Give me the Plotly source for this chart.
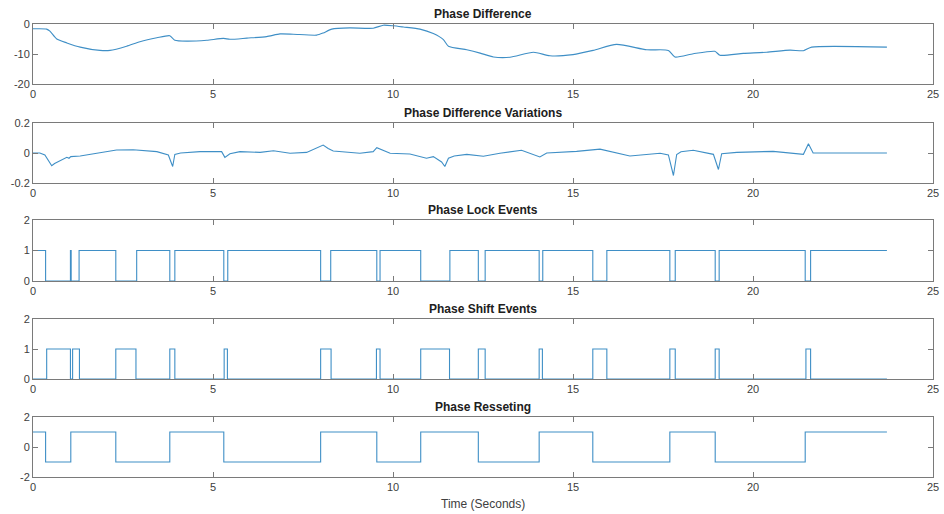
import plotly.graph_objects as go

# ---------------- data ----------------
pd_t = [0.0, 0.38, 0.47, 0.66, 0.94, 1.31, 1.86, 2.14, 2.6, 2.97, 3.44, 3.8, 3.94, 4.27, 4.83,
        5.29, 5.47, 5.94, 6.49, 6.86, 7.23, 7.88, 8.06, 8.3, 8.8, 9.45, 9.73, 10.01, 10.29,
        10.75, 11.12, 11.4, 11.54, 12.05, 12.42, 12.79, 13.25, 13.9, 14.36, 15.0, 15.56,
        16.21, 17.05, 17.65, 17.83, 18.34, 18.94, 19.08, 19.73, 20.38, 21.03, 21.4, 21.63, 23.72]
pd_v = [-1.6, -1.7, -2.4, -5.0, -6.3, -7.7, -8.8, -8.8, -7.4, -5.9, -4.6, -3.9, -5.4, -5.7, -5.4,
        -4.8, -5.1, -4.7, -4.2, -3.3, -3.4, -3.7, -3.0, -1.7, -1.3, -1.4, -0.4, -0.6, -1.0,
        -1.7, -3.2, -5.2, -7.4, -8.6, -9.7, -11.0, -11.1, -9.4, -10.6, -10.2, -8.8,
        -6.8, -8.6, -8.8, -11.0, -9.9, -9.1, -10.4, -9.8, -9.4, -8.7, -8.9, -7.7, -7.7]

pdv_t = [0.0, 0.19, 0.33, 0.45, 0.52, 0.6, 0.7, 0.94, 1.0, 1.05, 1.31, 1.86, 2.32, 2.78, 3.44,
         3.76, 3.88, 3.94, 4.1, 4.64, 5.24, 5.33, 5.47, 5.75, 6.31, 6.68, 7.14, 7.6, 7.88, 8.06,
         8.2, 8.34, 9.08, 9.45, 9.55, 9.69, 9.92, 10.47, 10.93, 11.12, 11.35, 11.44, 11.54,
         11.7, 12.05, 12.51, 12.97, 13.57, 14.08, 14.27, 15.1, 15.75, 16.58, 17.42, 17.65,
         17.79, 17.88, 18.0, 18.34, 18.9, 19.04, 19.13, 19.55, 20.56, 21.4, 21.54, 21.67, 23.72]
pdv_v = [0.0, 0.0, -0.013, -0.06, -0.085, -0.07, -0.057, -0.029, -0.035, -0.024, -0.02, 0.0,
         0.02, 0.022, 0.009, -0.013, -0.09, -0.01, 0.0, 0.009, 0.009, -0.029, -0.005, 0.009,
         0.004, 0.015, -0.002, 0.004, 0.031, 0.053, 0.03, 0.013, -0.002, 0.009, 0.035, 0.02,
         -0.002, -0.007, -0.035, -0.024, -0.06, -0.09, -0.035, -0.02, -0.009, -0.022, -0.002,
         0.018, -0.026, 0.0, 0.011, 0.026, -0.02, -0.002, -0.013, -0.15, -0.01, 0.008, 0.018,
         -0.009, -0.11, -0.005, 0.004, 0.011, -0.009, 0.062, 0.0, 0.0]

lock_t = [0, 0.35, 1.04, 1.06, 1.28, 2.3, 2.88, 3.8, 3.94, 5.3, 5.41, 7.99, 8.27, 9.55, 9.64,
          10.77, 11.58, 12.37, 12.56, 14.06, 14.16, 15.55, 15.94, 17.69, 17.84, 18.95, 19.06,
          21.45, 21.6, 23.72]
lock_v = [1, 0, 1, 0, 1, 0, 1, 0, 1, 0, 1, 0, 1, 0, 1, 0, 1, 0, 1, 0, 1, 0, 1, 0, 1, 0, 1, 0, 1, 1]

shift_t = [0, 0.38, 1.04, 1.1, 1.29, 2.3, 2.86, 3.8, 3.94, 5.31, 5.4, 7.99, 8.28, 9.54, 9.64,
           10.77, 11.57, 12.37, 12.56, 14.06, 14.15, 15.55, 15.94, 17.69, 17.84, 18.95, 19.06,
           21.47, 21.6, 23.72]
shift_v = [0, 1, 0, 1, 0, 1, 0, 1, 0, 1, 0, 1, 0, 1, 0, 1, 0, 1, 0, 1, 0, 1, 0, 1, 0, 1, 0, 1, 0, 0]

reset_t = [0, 0.35, 1.05, 2.3, 3.8, 5.3, 7.99, 9.55, 10.77, 12.37, 14.06, 15.55, 17.69, 18.95,
           21.45, 23.72]
reset_v = [1, -1, 1, -1, 1, -1, 1, -1, 1, -1, 1, -1, 1, -1, 1, 1]

titles = ["Phase Difference", "Phase Difference Variations", "Phase Lock Events",
          "Phase Shift Events", "Phase Resseting"]
y_ranges = [[-20, 0], [-0.2, 0.2], [0, 2], [0, 2], [-2, 2]]
y_ticks = [[-20, -10, 0], [-0.2, 0, 0.2], [0, 1, 2], [0, 1, 2], [-2, 0, 2]]
y_ticktext = [["-20", "-10", "0"], ["-0.2", "0", "0.2"], ["0", "1", "2"], ["0", "1", "2"],
              ["-2", "0", "2"]]
x_ticks = [0, 5, 10, 15, 20, 25]
x_label = "Time (Seconds)"

# ---------------- figure ----------------
W, H = 944, 514
mt, mb = 24, 37
ph = H - mt - mb
pix_tops = [24, 123, 220, 319, 417]
pix_bots = [84, 183, 281, 379, 477]
domains = [[(H - mb - b) / ph, (H - mb - t) / ph] for t, b in zip(pix_tops, pix_bots)]

line_color = "#3f8fc6"
axis_color = "#7a7a7a"
font = "Liberation Sans, Arial, Helvetica, sans-serif"

series = [(pd_t, pd_v, "spline"), (pdv_t, pdv_v, "linear"), (lock_t, lock_v, "hv"),
          (shift_t, shift_v, "hv"), (reset_t, reset_v, "hv")]

fig = go.Figure()
layout = dict(
    width=W, height=H,
    margin=dict(l=33, r=11, t=mt, b=mb, autoexpand=False),
    paper_bgcolor="white", plot_bgcolor="white",
    showlegend=False,
    font=dict(family=font, size=11, color="#404040"),
    annotations=[],
)

for i, (tx, vy, shape) in enumerate(series):
    n = "" if i == 0 else str(i + 1)
    ln = dict(color=line_color, width=1.1, shape=shape)
    if shape == "spline":
        ln["smoothing"] = 0.6
    fig.add_trace(go.Scatter(x=tx, y=vy, mode="lines", line=ln,
                             xaxis="x" + n, yaxis="y" + n, hoverinfo="skip"))
    layout["xaxis" + n] = dict(
        domain=[0, 1], anchor="y" + n, range=[0, 25], tickvals=x_ticks, automargin=False,
        ticks="inside", ticklen=5, tickcolor=axis_color, showline=True, linecolor=axis_color,
        linewidth=1, mirror="ticks", showgrid=False, zeroline=False,
        tickfont=dict(size=11, color="#404040"), fixedrange=True,
    )
    layout["yaxis" + n] = dict(
        domain=domains[i], anchor="x" + n, range=y_ranges[i], tickvals=y_ticks[i],
        ticktext=y_ticktext[i], automargin=False,
        ticks="inside", ticklen=5, tickcolor=axis_color, showline=True, linecolor=axis_color,
        linewidth=1, mirror="ticks", showgrid=False, zeroline=False,
        tickfont=dict(size=11, color="#404040"), fixedrange=True,
    )
    layout["annotations"].append(dict(
        text="<b>" + titles[i] + "</b>", xref="paper", yref="paper", x=0.5, y=domains[i][1],
        xanchor="center", yanchor="bottom", yshift=1, showarrow=False,
        font=dict(family=font, size=12, color="#202020"),
    ))

layout["annotations"].append(dict(
    text=x_label, xref="paper", yref="paper", x=0.5, y=0, yshift=-18,
    xanchor="center", yanchor="top", showarrow=False,
    font=dict(family=font, size=12, color="#404040"),
))

fig.update_layout(**layout)
fig.write_html(
    "out.html",
    config={"displayModeBar": False},
    post_script="document.body.style.margin='0';document.body.style.overflow='hidden';",
)
